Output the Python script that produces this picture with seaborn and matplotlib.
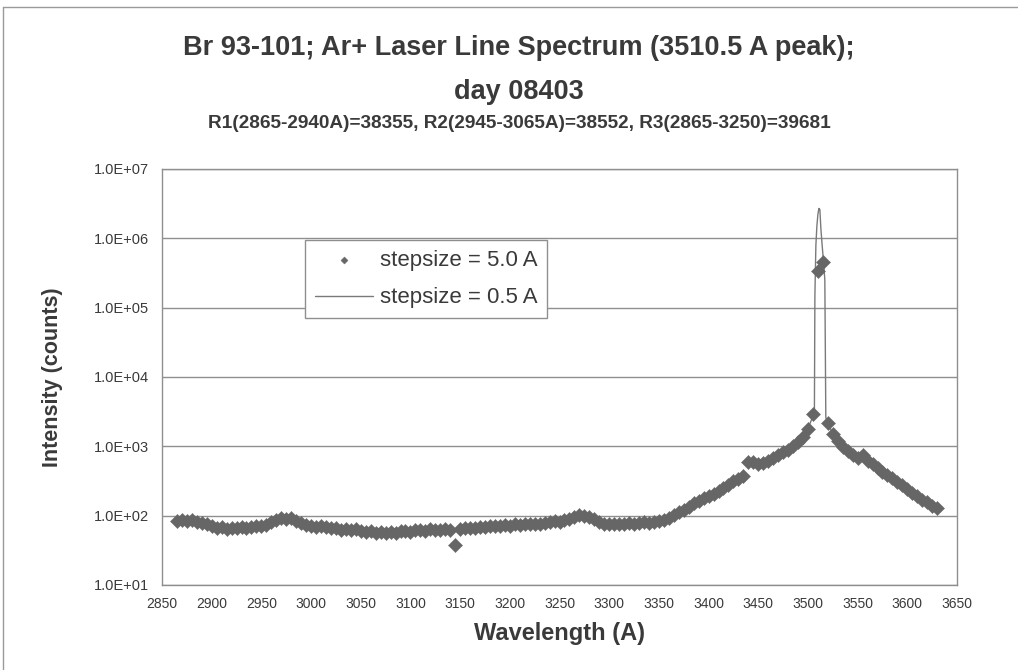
"""Br 93-101 Ar+ laser line spectrum (log intensity vs wavelength)."""

import matplotlib.pyplot as plt
import numpy as np
import pandas as pd
import seaborn as sns
from matplotlib.lines import Line2D
from matplotlib.ticker import FixedLocator, FuncFormatter, NullLocator

# ---- data ----
# stepsize 5.0 A scan, 2865..3630 A
wl_5a = list(range(2865, 3631, 5))
counts_5a = [
    84, 88, 83, 86, 82, 78, 75, 70, 67, 68,            # 2865-2910
    65, 67, 66, 69, 67, 68, 70, 71, 74, 80,            # 2915-2960
    86, 94, 90, 92, 85, 78, 73, 71, 69, 72,            # 2965-3010
    68, 66, 67, 63, 65, 62, 64, 60, 59, 61,            # 3015-3060
    57, 58, 56, 59, 57, 60, 61, 59, 62, 63,            # 3065-3110
    61, 64, 63, 62, 64, 63, 38, 65, 66, 67,            # 3115-3160
    66, 69, 68, 70, 71, 70, 73, 72, 75, 74,            # 3165-3210
    76, 75, 77, 76, 79, 80, 83, 82, 86, 90,            # 3215-3260
    96, 102, 99, 97, 90, 82, 77, 76, 75, 77,           # 3265-3310
    76, 78, 77, 79, 80, 79, 82, 84, 88, 94,            # 3315-3360
    103, 113, 122, 135, 150, 162, 178, 190, 205, 228,  # 3365-3410
    250, 280, 315, 340, 370, 590, 600, 560, 570, 620,  # 3415-3460
    690, 760, 830, 880, 1000, 1150, 1370, 1800, 2900, 340000,  # 3465-3510
    460000, 2200, 1500, 1200, 980, 850, 740, 680, 740, 620,    # 3515-3560
    560, 480, 430, 390, 350, 310, 280, 245, 215, 190,  # 3565-3610
    170, 155, 140, 128,                                # 3615-3630
]

# stepsize 0.5 A scan around the laser line (elsewhere hidden under the markers)
wl_05a = [3495, 3500, 3503, 3505, 3506.5, 3507, 3508, 3509, 3510, 3511,
          3512, 3513, 3514, 3515, 3516, 3517, 3518, 3520, 3525, 3530]
counts_05a = [1370, 1800, 2300, 2700, 3000, 150000, 800000, 1500000, 2200000, 2700000,
              2600000, 1400000, 900000, 600000, 400000, 250000, 2600, 2200, 1500, 1200]

x_ticks = list(range(2850, 3651, 50))
y_ticks = [1e1, 1e2, 1e3, 1e4, 1e5, 1e6, 1e7]

title_1 = "Br 93-101; Ar+ Laser Line Spectrum (3510.5 A peak);"
title_2 = "day 08403"
title_3 = "R1(2865-2940A)=38355, R2(2945-3065A)=38552, R3(2865-3250)=39681"

TEXT = "#3a3a3a"
MARK = "#666666"
GRID = "#8f8f8f"

sns.set_theme(style="white")
plt.rcParams["font.family"] = ["Liberation Sans", "DejaVu Sans"]

df5 = pd.DataFrame({"wl": wl_5a, "counts": counts_5a})
df05 = pd.DataFrame({"wl": wl_05a, "counts": counts_05a})

fig = plt.figure(figsize=(10.18, 6.70), dpi=100)
ax = fig.add_axes([162 / 1018, 85 / 670, 795 / 1018, 416 / 670])

sns.lineplot(data=df05, x="wl", y="counts", ax=ax, color="#7a7a7a", lw=1.0,
             sort=False, estimator=None, label="stepsize = 0.5 A", zorder=2)
sns.scatterplot(data=df5, x="wl", y="counts", ax=ax, marker="D", s=52,
                color=MARK, edgecolor=MARK, linewidth=0.3,
                label="stepsize = 5.0 A", zorder=3)

ax.set_yscale("log")
ax.set_xlim(2850, 3650)
ax.set_ylim(1e1, 1e7)
ax.xaxis.set_major_locator(FixedLocator(x_ticks))
ax.yaxis.set_major_locator(FixedLocator(y_ticks))
ax.yaxis.set_minor_locator(NullLocator())
ax.yaxis.set_major_formatter(FuncFormatter(lambda v, _: f"{v:.1E}"))

ax.grid(axis="y", color=GRID, lw=1.0)
ax.grid(axis="x", visible=False)
for sp in ax.spines.values():
    sp.set_color(GRID)
    sp.set_linewidth(1.0)

ax.tick_params(axis="both", which="major", direction="inout", length=7,
               width=0.8, color=GRID, labelcolor=TEXT)
ax.tick_params(axis="x", labelsize=10, pad=5)
ax.tick_params(axis="y", labelsize=10.5, pad=6)

ax.set_xlabel("Wavelength (A)", fontsize=17, fontweight="bold", color=TEXT, labelpad=8)
ax.set_ylabel("Intensity (counts)", fontsize=15.5, fontweight="bold", color=TEXT, labelpad=22)

handles, labels = ax.get_legend_handles_labels()
order = [labels.index("stepsize = 5.0 A"), labels.index("stepsize = 0.5 A")]
leg = ax.legend([handles[i] for i in order], [labels[i] for i in order],
                loc="upper left", bbox_to_anchor=(0.18, 0.83), fontsize=16,
                frameon=True, fancybox=False, edgecolor=GRID, framealpha=1,
                borderpad=0.45, handlelength=2.6, handletextpad=0.3,
                labelspacing=0.75, markerscale=0.5, borderaxespad=0)
leg.get_frame().set_linewidth(1.0)
for t in leg.get_texts():
    t.set_color(TEXT)

fig.text(0.51, 1 - 48 / 670, title_1, ha="center", va="center",
         fontsize=19.5, fontweight="bold", color=TEXT)
fig.text(0.51, 1 - 92 / 670, title_2, ha="center", va="center",
         fontsize=19.5, fontweight="bold", color=TEXT)
fig.text(0.51, 1 - 123 / 670, title_3, ha="center", va="center",
         fontsize=13.7, fontweight="bold", color=TEXT)

# thin page frame of the scan (top and left edges)
fig.add_artist(Line2D([3 / 1018, 1], [1 - 7 / 670, 1 - 7 / 670],
                      transform=fig.transFigure, color="#9a9a9a", lw=1.0))
fig.add_artist(Line2D([3 / 1018, 3 / 1018], [0, 1 - 7 / 670],
                      transform=fig.transFigure, color="#9a9a9a", lw=1.0))

fig.savefig("out.png", dpi=100, facecolor="white")
